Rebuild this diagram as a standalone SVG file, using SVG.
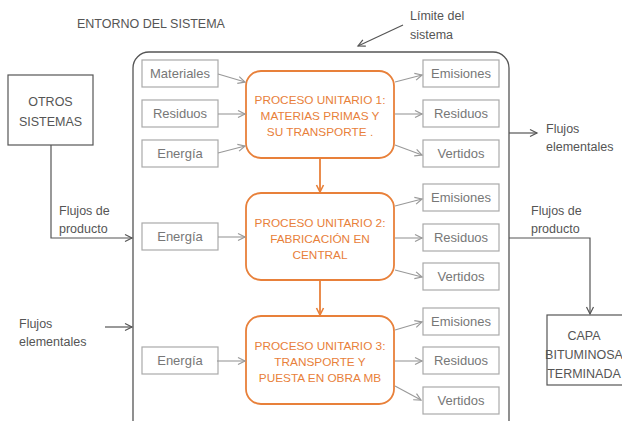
<svg xmlns="http://www.w3.org/2000/svg" width="622" height="421" viewBox="0 0 622 421">
<style>
.t{font-family:"Liberation Sans",Arial,sans-serif;font-size:12.5px;fill:#555}
.g{font-family:"Liberation Sans",Arial,sans-serif;font-size:13px;fill:#777;text-anchor:middle}
.o{font-family:"Liberation Sans",Arial,sans-serif;font-size:11.8px;fill:#E8803A;text-anchor:middle}
.bx{fill:#fff;stroke:#aaa;stroke-width:1.2}
.pu{fill:#fff;stroke:#E8803A;stroke-width:1.8}
.ga{stroke:#999;stroke-width:1.1;fill:none;marker-end:url(#ag)}
.da{stroke:#555;stroke-width:1.2;fill:none;marker-end:url(#ad)}
.oa{stroke:#E8803A;stroke-width:1.8;fill:none;marker-end:url(#ao)}
</style>
<defs>
<marker id="ag" markerWidth="10" markerHeight="10" refX="8" refY="5" orient="auto" markerUnits="userSpaceOnUse"><path d="M1,1.5 L8,5 L1,8.5" fill="none" stroke="#999" stroke-width="1.2"/></marker>
<marker id="ad" markerWidth="10" markerHeight="10" refX="8" refY="5" orient="auto" markerUnits="userSpaceOnUse"><path d="M1,1.5 L8,5 L1,8.5" fill="none" stroke="#555" stroke-width="1.2"/></marker>
<marker id="ao" markerWidth="10" markerHeight="10" refX="8" refY="5" orient="auto" markerUnits="userSpaceOnUse"><path d="M1,1.5 L8,5 L1,8.5" fill="none" stroke="#E8803A" stroke-width="1.6"/></marker>
</defs>
<rect width="622" height="421" fill="#fff"/>
<g id="boundary">
<rect x="133" y="52" width="376" height="385" rx="16" fill="none" stroke="#555" stroke-width="1.3"/>
<text class="t" x="77" y="28" font-size="12.2">ENTORNO DEL SISTEMA</text>
<text class="t" x="410" y="20">Límite del</text>
<text class="t" x="410" y="39">sistema</text>
</g>
<g id="otros"><rect x="8" y="75" width="85" height="70" fill="#fff" stroke="#555" stroke-width="1.2"/>
<text class="t" x="50.5" y="106" text-anchor="middle">OTROS</text><text class="t" x="50.5" y="126" text-anchor="middle">SISTEMAS</text></g>
<g id="capa"><rect x="547" y="315" width="88" height="70" fill="#fff" stroke="#555" stroke-width="1.2"/>
<text class="t" x="584" y="340" text-anchor="middle" font-size="11">CAPA</text><text class="t" x="584" y="359" text-anchor="middle" font-size="11">BITUMINOSA</text><text class="t" x="584" y="378" text-anchor="middle" font-size="11">TERMINADA</text></g>
<g id="labels">
<text class="t" x="59" y="215">Flujos de</text><text class="t" x="59" y="233">producto</text>
<text class="t" x="19" y="328">Flujos</text><text class="t" x="19" y="346">elementales</text>
<text class="t" x="546" y="133">Flujos</text><text class="t" x="546" y="151">elementales</text>
<text class="t" x="531" y="215">Flujos de</text><text class="t" x="531" y="233">producto</text>
</g>
<g id="in1"><rect class="bx" x="142" y="60" width="76" height="27"/><text class="g" x="180" y="78">Materiales</text></g>
<g id="in2"><rect class="bx" x="142" y="100" width="76" height="27"/><text class="g" x="180" y="118">Residuos</text></g>
<g id="in3"><rect class="bx" x="142" y="140" width="76" height="27"/><text class="g" x="180" y="158">Energía</text></g>
<g id="in4"><rect class="bx" x="142" y="223" width="76" height="27"/><text class="g" x="180" y="241">Energía</text></g>
<g id="in5"><rect class="bx" x="142" y="347" width="76" height="27"/><text class="g" x="180" y="365">Energía</text></g>
<g id="out1"><rect class="bx" x="423" y="60" width="76" height="27"/><text class="g" x="461" y="78">Emisiones</text></g>
<g id="out2"><rect class="bx" x="423" y="100" width="76" height="27"/><text class="g" x="461" y="118">Residuos</text></g>
<g id="out3"><rect class="bx" x="423" y="140" width="76" height="27"/><text class="g" x="461" y="158">Vertidos</text></g>
<g id="out4"><rect class="bx" x="423" y="184" width="76" height="27"/><text class="g" x="461" y="202">Emisiones</text></g>
<g id="out5"><rect class="bx" x="423" y="224" width="76" height="27"/><text class="g" x="461" y="242">Residuos</text></g>
<g id="out6"><rect class="bx" x="423" y="263" width="76" height="27"/><text class="g" x="461" y="281">Vertidos</text></g>
<g id="out7"><rect class="bx" x="423" y="308" width="76" height="27"/><text class="g" x="461" y="326">Emisiones</text></g>
<g id="out8"><rect class="bx" x="423" y="347" width="76" height="27"/><text class="g" x="461" y="365">Residuos</text></g>
<g id="out9"><rect class="bx" x="423" y="387" width="76" height="27"/><text class="g" x="461" y="405">Vertidos</text></g>
<g id="pu1"><rect class="pu" x="246" y="71" width="148" height="87" rx="15"/>
<text class="o" x="320" y="104">PROCESO UNITARIO 1:</text><text class="o" x="320" y="120">MATERIAS PRIMAS Y</text><text class="o" x="320" y="136">SU TRANSPORTE .</text></g>
<g id="pu2"><rect class="pu" x="246" y="193" width="148" height="87" rx="15"/>
<text class="o" x="320" y="227">PROCESO UNITARIO 2:</text><text class="o" x="320" y="243">FABRICACIÓN EN</text><text class="o" x="320" y="259">CENTRAL</text></g>
<g id="pu3"><rect class="pu" x="246" y="316" width="148" height="88" rx="15"/>
<text class="o" x="320" y="350">PROCESO UNITARIO 3:</text><text class="o" x="320" y="366">TRANSPORTE Y</text><text class="o" x="320" y="382">PUESTA EN OBRA MB</text></g>
<g id="connectors">
<path class="da" d="M403,25 L358,46"/>
<path class="da" d="M51,145 V238 H132"/>
<path class="da" d="M105,327 H132"/>
<path class="da" d="M509,133 H537"/>
<path class="da" d="M509,238 H590 V314"/>
<path class="oa" d="M320,158 V192"/>
<path class="oa" d="M320,280 V315"/>
<path class="ga" d="M218,74 L245,82"/>
<path class="ga" d="M218,114 H245"/>
<path class="ga" d="M218,153 L245,146"/>
<path class="ga" d="M218,237 H245"/>
<path class="ga" d="M217,361 H245"/>
<path class="ga" d="M395,82 L422,75"/>
<path class="ga" d="M395,114 H422"/>
<path class="ga" d="M395,145 L422,155"/>
<path class="ga" d="M395,206 L422,199"/>
<path class="ga" d="M395,238 H422"/>
<path class="ga" d="M395,270 L422,277"/>
<path class="ga" d="M395,330 L422,322"/>
<path class="ga" d="M395,361 H422"/>
<path class="ga" d="M395,386 L421,400"/>
</g>
</svg>
